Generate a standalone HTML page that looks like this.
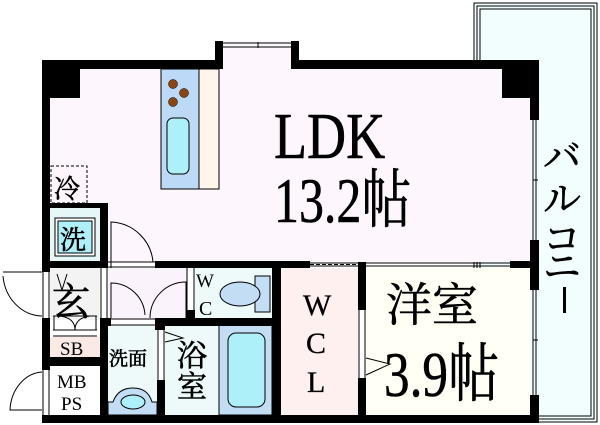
<!DOCTYPE html>
<html><head><meta charset="utf-8"><style>
html,body{margin:0;padding:0;background:#fff;width:600px;height:425px;overflow:hidden}
svg{display:block}
</style></head><body>
<svg width="600" height="425" viewBox="0 0 600 425" xmlns="http://www.w3.org/2000/svg" font-family="'Liberation Serif','DejaVu Serif','Noto Serif CJK SC','Noto Sans CJK SC',serif">
<rect x="474" y="3" width="123" height="419" fill="#f2fdfd" stroke="#000" stroke-width="1"/>
<rect x="477" y="6" width="117" height="413" fill="none" stroke="#000" stroke-width="1"/>
<rect x="480" y="9" width="111" height="407" fill="#f2fdfd" stroke="#000" stroke-width="1"/>
<rect x="50" y="68" width="481" height="194" fill="#fdf6fd"/>
<rect x="215" y="41" width="84" height="28" fill="#fdf6fd"/>
<rect x="50" y="208" width="50" height="54" fill="#e6f7f7"/>
<rect x="50" y="268" width="50" height="52" fill="#f3f3f3"/>
<rect x="108" y="268" width="80" height="52" fill="#fbf3fb"/>
<rect x="195" y="268" width="77" height="50" fill="#eefafa"/>
<rect x="50" y="337" width="50" height="20" fill="#fbe9e6"/>
<rect x="108" y="325" width="49" height="90" fill="#eefafa"/>
<rect x="165" y="325" width="54" height="90" fill="#eefafa"/>
<rect x="219" y="325" width="53" height="90" fill="#c3ddf5" stroke="#000" stroke-width="1"/>
<rect x="228" y="333" width="37" height="74" rx="8" fill="#aef0fa" stroke="#000"/>
<rect x="281" y="268" width="77" height="147" fill="#fdf0ef"/>
<rect x="366" y="268" width="164" height="147" fill="#fffff5"/>
<rect x="161" y="69" width="38" height="120" fill="#bcd9f5" stroke="#000"/>
<rect x="199" y="69" width="20" height="120" fill="#fff5ec" stroke="#000"/>
<circle cx="173" cy="84" r="4.5" fill="#8b4513" stroke="#000" stroke-width=".5"/>
<circle cx="184" cy="93" r="4.5" fill="#8b4513" stroke="#000" stroke-width=".5"/>
<circle cx="173" cy="102" r="4.5" fill="#8b4513" stroke="#000" stroke-width=".5"/>
<rect x="167" y="118" width="22" height="56" rx="6" fill="#aef0fa" stroke="#000"/>
<g fill="#000">
<rect x="42" y="60" width="173" height="9"/>
<rect x="215" y="41" width="8" height="28"/>
<rect x="291" y="41" width="8" height="28"/>
<rect x="291" y="60" width="248" height="9"/>
<rect x="502" y="60" width="37" height="38"/>
<rect x="50" y="60" width="30" height="38"/>
<rect x="42" y="60" width="8" height="212"/>
<rect x="42" y="318" width="8" height="52"/>
<rect x="42" y="415" width="497" height="8"/>
<rect x="530" y="60" width="9" height="60"/>
<rect x="530" y="240" width="9" height="50"/>
<rect x="530" y="395" width="9" height="28"/>
<rect x="42" y="203" width="66" height="5"/>
<rect x="100" y="203" width="8" height="65"/>
<rect x="42" y="261" width="66" height="7"/>
<rect x="155" y="261" width="155" height="7"/>
<rect x="510" y="261" width="29" height="7"/>
<rect x="100" y="318" width="8" height="104"/>
<rect x="42" y="357" width="66" height="9"/>
<rect x="108" y="318" width="3" height="8"/>
<rect x="155" y="318" width="126" height="8"/>
<rect x="155" y="318" width="10" height="12"/>
<rect x="157" y="380" width="8" height="40"/>
<rect x="186" y="262" width="9" height="6"/>
<rect x="186" y="310" width="9" height="10"/>
<rect x="272" y="262" width="9" height="160"/>
<rect x="358" y="262" width="8" height="48"/>
<rect x="358" y="378" width="8" height="44"/>
</g>
<g stroke="#000" stroke-width="1" fill="none">
<line x1="223" y1="43" x2="291" y2="43"/><line x1="223" y1="47" x2="291" y2="47"/>
<line x1="258" y1="42" x2="258" y2="48"/>
<line x1="310" y1="263" x2="510" y2="263"/><line x1="310" y1="266" x2="510" y2="266"/>
<line x1="310" y1="264.5" x2="360" y2="264.5" stroke-dasharray="4,2"/>
<line x1="533" y1="120" x2="533" y2="240"/><line x1="536" y1="120" x2="536" y2="240"/>
<line x1="533" y1="290" x2="533" y2="395"/><line x1="536" y1="290" x2="536" y2="395"/>
<line x1="533" y1="180" x2="538" y2="180"/><line x1="533" y1="340" x2="538" y2="340"/>
<line x1="43" y1="272" x2="43" y2="318"/><line x1="49" y1="272" x2="49" y2="318"/>
<path d="M3,272 L42,272 M3,276 A40,44 0 0 0 42,316"/>
<line x1="43" y1="370" x2="43" y2="415"/><line x1="49" y1="370" x2="49" y2="415"/>
<path d="M42,372 A34,40 0 0 0 10,410 L42,410"/>
<rect x="51" y="166" width="36" height="37" stroke-dasharray="3,2"/>
<rect x="55" y="218" width="40" height="38" fill="#fff"/>
<rect x="58" y="221" width="34" height="32" fill="#aef0fa"/>
<path d="M111,268 L111,222 A44,44 0 0 1 153,262"/>
<line x1="108" y1="262" x2="155" y2="262"/><line x1="108" y1="267" x2="155" y2="267"/>
<line x1="101" y1="268" x2="101" y2="318"/><line x1="107" y1="268" x2="107" y2="318"/>
<path d="M111,318 L111,283 A34,34 0 0 1 145,315"/>
<path d="M186,320 L186,282 A36,36 0 0 0 150,318"/>
<line x1="108" y1="319" x2="155" y2="319"/><line x1="108" y1="325" x2="155" y2="325"/>
<line x1="187" y1="268" x2="187" y2="310"/><line x1="194" y1="268" x2="194" y2="310"/>
<line x1="53" y1="316" x2="97" y2="316"/><line x1="53" y1="336" x2="97" y2="336"/>
<line x1="53" y1="330" x2="97" y2="330"/>
<path d="M54,316 L54,330 M96,316 L96,330 M60,316 Q75,318 75,330 Q75,318 90,316"/>
<path d="M57,274 L62,290 L67,274"/>
<line x1="158" y1="330" x2="158" y2="380"/><line x1="164" y1="330" x2="164" y2="380"/>
<path d="M165,332 L183,338 L165,342"/>
<path d="M108,402 L113,402 Q118,388 133,388 Q148,388 152,402 L157,402 L157,415 L108,415 Z" fill="#c3ddf5"/>
<ellipse cx="133" cy="402" rx="12" ry="7" fill="#aef0fa"/>
<rect x="255" y="276" width="15" height="36" fill="#c3ddf5"/>
<ellipse cx="240" cy="294" rx="20" ry="12" fill="#c3ddf5"/>
<line x1="359" y1="310" x2="359" y2="378"/><line x1="365" y1="310" x2="365" y2="378"/>
<path d="M366,358 L390,364 L366,375"/>
</g>
<g fill="#000" stroke="#000" stroke-width="0.6">
<text x="54" y="198" font-size="26">冷</text>
<text x="60" y="249" font-size="26">洗</text>
<text x="52" y="315" font-size="38">玄</text>
<text x="60" y="355" font-size="19" stroke-width="0">SB</text>
<text x="57" y="388" font-size="19" stroke-width="0">MB</text>
<text x="61" y="410" font-size="19" stroke-width="0">PS</text>
<text x="109" y="365" font-size="19">洗面</text>
<text x="177" y="366" font-size="30">浴</text>
<text x="177" y="397" font-size="30">室</text>
<text x="196" y="287" font-size="19" stroke-width="0">W</text>
<text x="199" y="315" font-size="20" stroke-width="0">C</text>
<text x="303" y="315" font-size="30" stroke-width="0.3">W</text>
<text x="306" y="353" font-size="30" stroke-width="0.3">C</text>
<text x="307" y="392" font-size="30" stroke-width="0.3">L</text>
<text x="386" y="321" font-size="46">洋室</text>
<text x="384" y="396" font-size="64" transform="translate(384,396) scale(0.8,1) translate(-384,-396)">3.9帖</text>
<text x="274" y="158" font-size="66" transform="translate(274,158) scale(0.82,1) translate(-274,-158)">LDK</text>
<text x="274" y="222" font-size="64" transform="translate(274,222) scale(0.78,1) translate(-274,-222)">13.2帖</text>
<text x="543" y="170" font-size="38">バ</text>
<text x="543" y="212" font-size="38">ル</text>
<text x="543" y="252" font-size="38">コ</text>
<text x="543" y="280" font-size="38">ニ</text>
</g>
<rect x="563" y="287" width="3" height="26" fill="#000"/>
</svg>
</body></html>
